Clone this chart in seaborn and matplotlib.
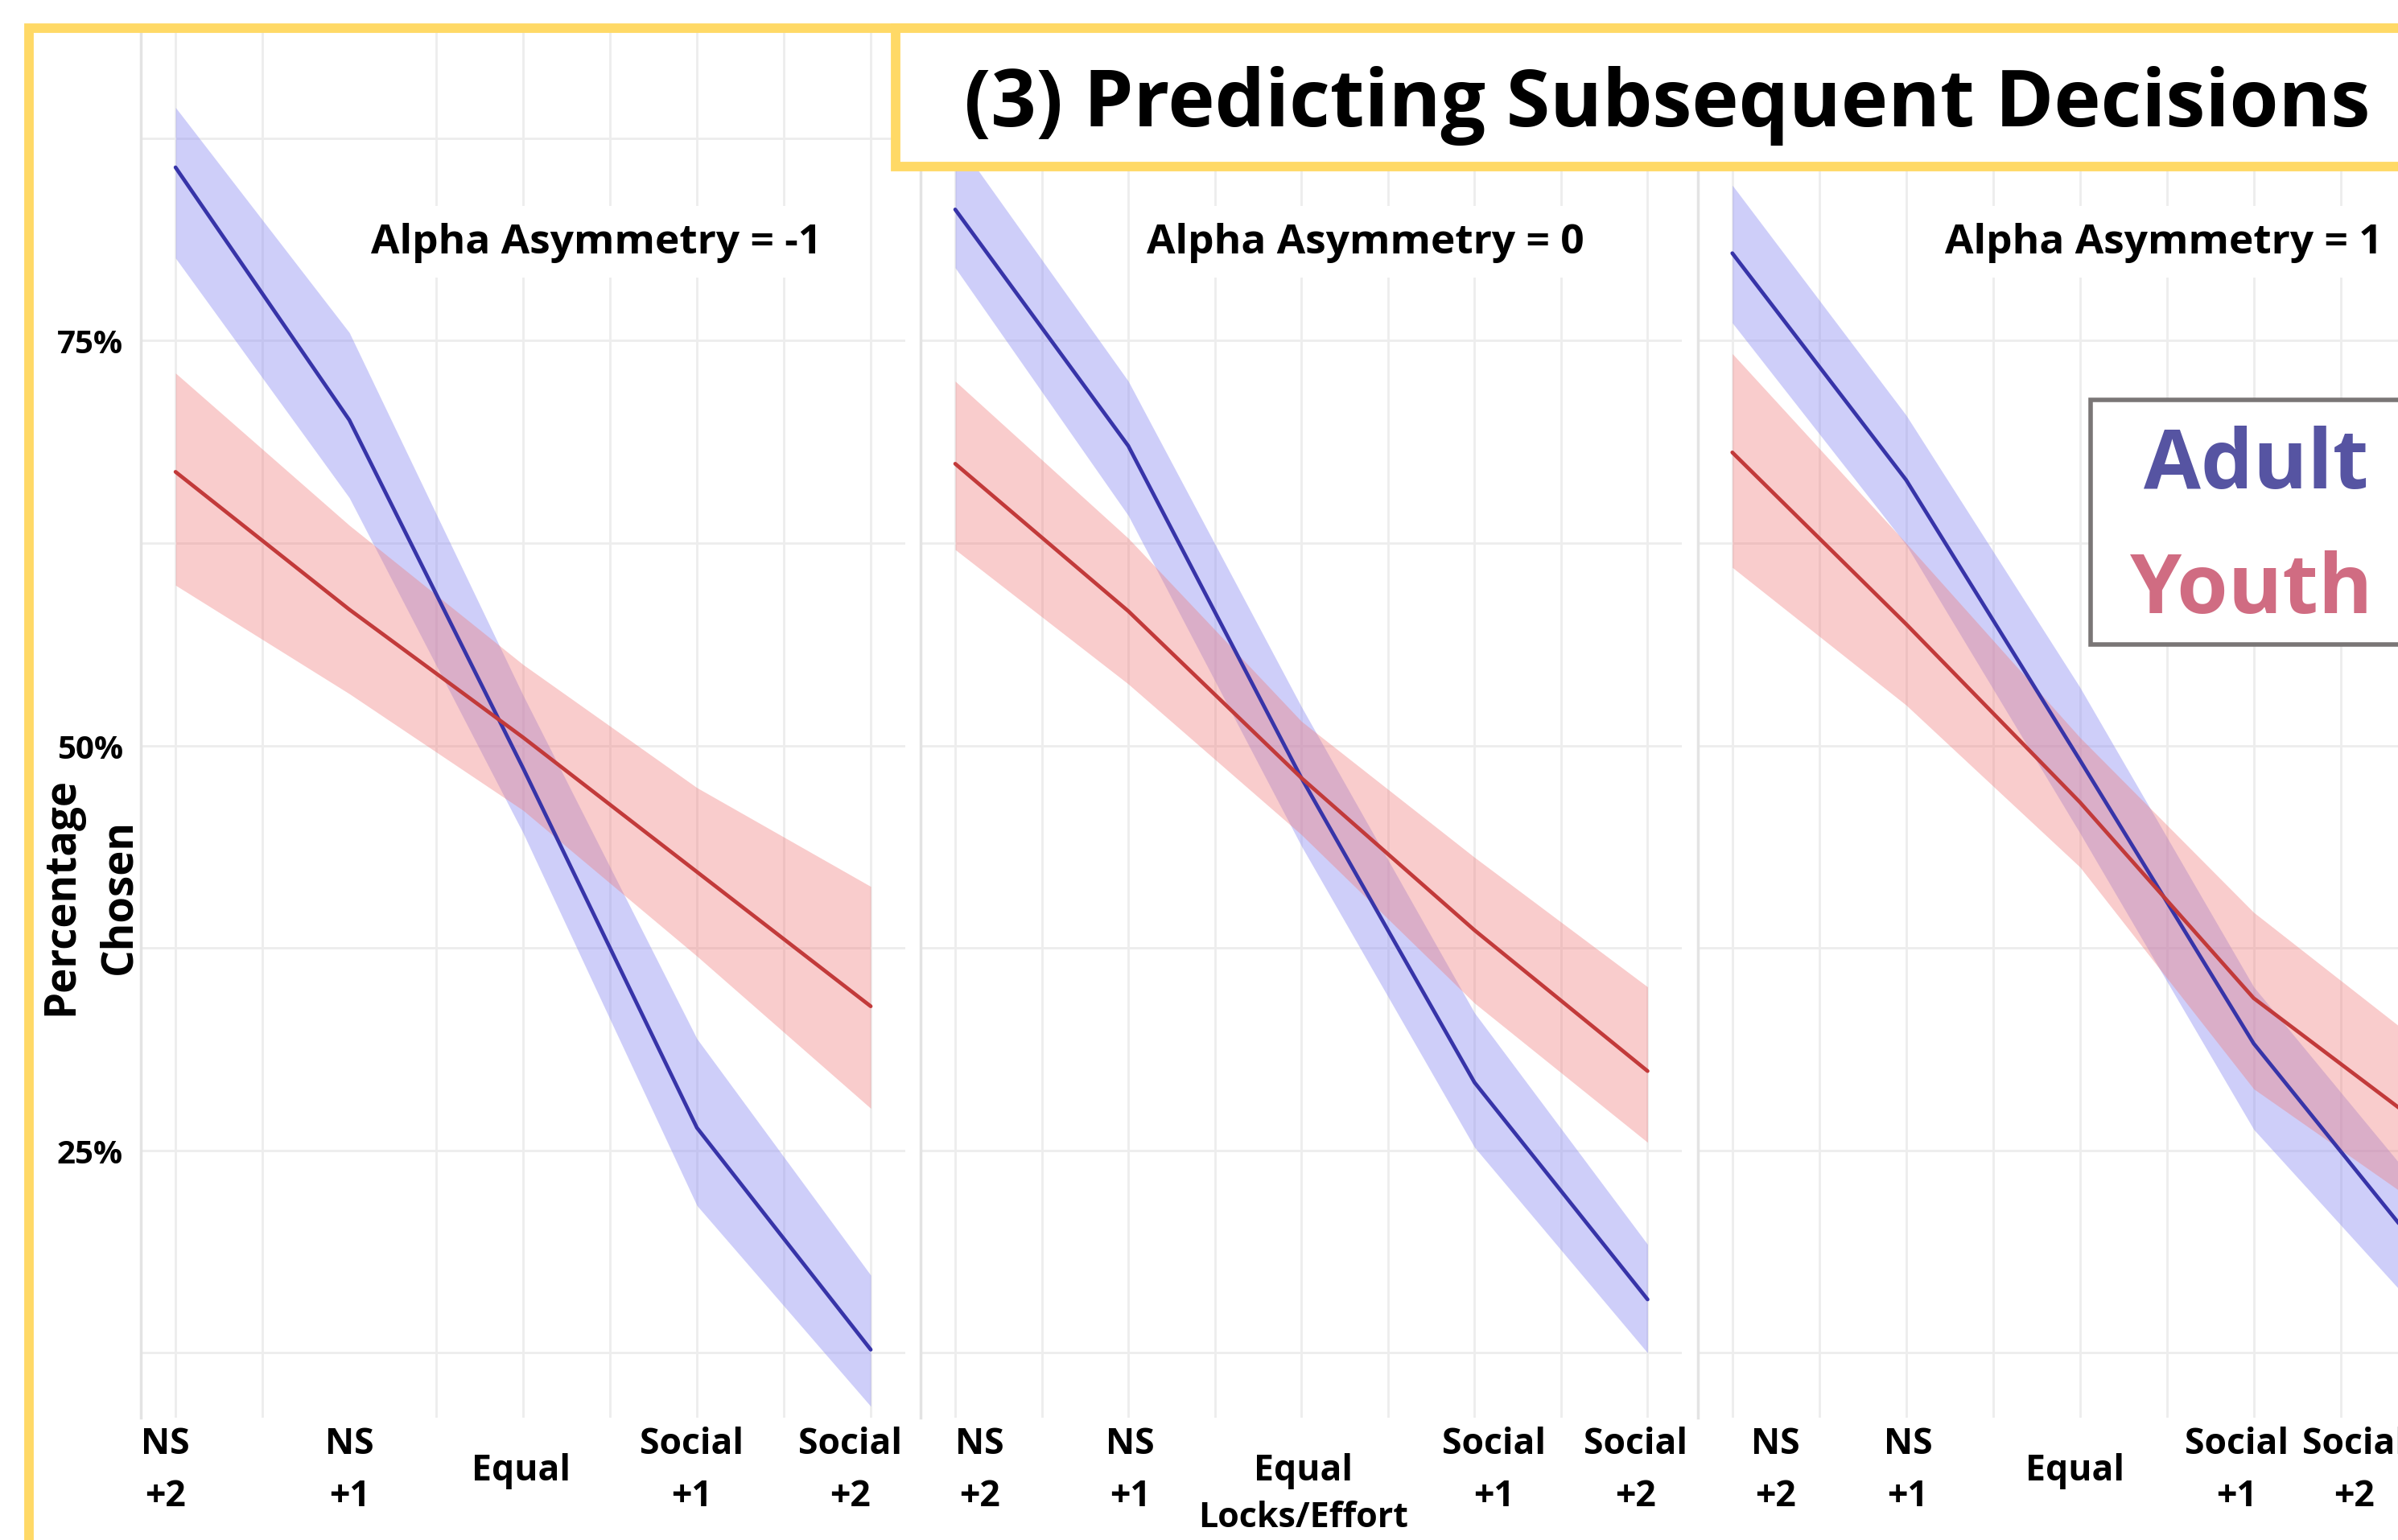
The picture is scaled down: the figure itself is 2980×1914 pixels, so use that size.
import numpy as np
import pandas as pd
import seaborn as sns
import matplotlib
matplotlib.use("Agg")
import matplotlib.pyplot as plt
from matplotlib.patches import Rectangle
from matplotlib.ticker import FixedLocator

# ---------------- data ----------------
categories = ["NS\n+2", "NS\n+1", "Equal", "Social\n+1", "Social\n+2"]
panel_titles = ["Alpha Asymmetry = -1", "Alpha Asymmetry = 0", "Alpha Asymmetry = 1"]
groups = ["Adult", "Youth"]

adult_mean_m1 = [85.7, 70.1, 48.6, 26.4, 12.7]
adult_hi_m1 = [89.4, 75.5, 53.1, 31.9, 17.3]
adult_lo_m1 = [80.1, 65.3, 44.6, 21.6, 9.2]
youth_mean_m1 = [66.9, 58.4, 50.5, 42.2, 33.9]
youth_hi_m1 = [73.0, 63.6, 55.0, 47.4, 41.3]
youth_lo_m1 = [59.9, 53.2, 46.0, 37.0, 27.6]

adult_mean_0 = [83.1, 68.5, 48.0, 29.2, 15.8]
adult_hi_0 = [87.5, 72.5, 52.4, 33.5, 19.2]
adult_lo_0 = [79.5, 64.2, 43.8, 25.2, 12.5]
youth_mean_0 = [67.4, 58.3, 48.0, 38.6, 29.9]
youth_hi_0 = [72.5, 62.8, 51.5, 43.1, 35.1]
youth_lo_0 = [62.1, 53.8, 44.5, 34.1, 25.5]

adult_mean_p1 = [80.4, 66.4, 49.1, 31.6, 18.3]
adult_hi_p1 = [84.6, 70.4, 53.6, 35.1, 22.1]
adult_lo_p1 = [76.1, 62.4, 44.6, 26.3, 14.5]
youth_mean_p1 = [68.1, 57.5, 46.5, 34.4, 26.3]
youth_hi_p1 = [74.2, 62.5, 50.5, 39.7, 31.3]
youth_lo_p1 = [61.0, 52.5, 42.5, 28.8, 21.3]

y_ticks = [25, 50, 75]
y_tick_labels = ["25%", "50%", "75%"]

panel_data = [
    (adult_mean_m1, adult_lo_m1, adult_hi_m1, youth_mean_m1, youth_lo_m1, youth_hi_m1),
    (adult_mean_0, adult_lo_0, adult_hi_0, youth_mean_0, youth_lo_0, youth_hi_0),
    (adult_mean_p1, adult_lo_p1, adult_hi_p1, youth_mean_p1, youth_lo_p1, youth_hi_p1),
]

rows = []
for p, (am, al, ah, ym, yl, yh) in enumerate(panel_data):
    for i in range(len(categories)):
        rows.append(dict(panel=p, pos=i, group="Adult", pct=am[i], lo=al[i], hi=ah[i]))
        rows.append(dict(panel=p, pos=i, group="Youth", pct=ym[i], lo=yl[i], hi=yh[i]))
df = pd.DataFrame(rows)

# ---------------- style ----------------
sns.set_style("white")
plt.rcParams["font.family"] = ["Open Sans", "DejaVu Sans"]
plt.rcParams["font.weight"] = "bold"
for key in ["text.color", "axes.labelcolor", "xtick.color", "ytick.color"]:
    plt.rcParams[key] = "black"

line_colors = {"Adult": "#3734A8", "Youth": "#C23A3A"}
band_colors = {"Adult": "#8C8CF2", "Youth": "#F07A7A"}
band_alpha = {"Adult": 0.42, "Youth": 0.38}
yellow = "#FFD966"
grid_col = "#EDEDED"

fig = plt.figure(figsize=(29.8, 19.15), dpi=100)

# layout (figure fractions)
ax_lefts = [0.0587, 0.3839, 0.7079]
ax_widths = [0.3189, 0.3176, 0.3189]
ax_bottom, ax_height = 0.0794, 0.9008
label_offsets = [
    [-0.06, 1.0, 1.99, 2.97, 3.88],
    [0.14, 1.01, 2.01, 3.11, 3.93],
    [0.25, 1.01, 1.97, 2.90, 3.58],
]
title_x = [0.596, 0.584, 0.61]

axes = []
for p in range(3):
    ax = fig.add_axes([ax_lefts[p], ax_bottom, ax_widths[p], ax_height])
    axes.append(ax)
    sub = df[df.panel == p]
    for g in groups:
        s = sub[sub.group == g]
        ax.fill_between(s.pos, s.lo, s.hi, color=band_colors[g], alpha=band_alpha[g],
                        linewidth=0, zorder=1)
    sns.lineplot(data=sub, x="pos", y="pct", hue="group", palette=line_colors,
                 linewidth=3.4, ax=ax, legend=False, zorder=3, errorbar=None)
    ax.set_xlim(-0.2, 4.2)
    ax.set_ylim(8.5, 94.2)

    # grid via minor ticks
    ax.xaxis.set_minor_locator(FixedLocator(np.arange(0, 4.01, 0.5)))
    ax.yaxis.set_minor_locator(FixedLocator([12.5, 37.5, 62.5, 87.5]))
    ax.set_xticks(label_offsets[p])
    ax.set_xticklabels(categories, fontsize=32, fontweight="bold", linespacing=1.6)
    for t in ax.get_xticklabels():
        t.set_verticalalignment("center")
    ax.tick_params(axis="x", which="major", pad=47, length=0)
    ax.tick_params(axis="both", which="minor", length=0)
    ax.set_yticks(y_ticks)
    if p == 0:
        ax.set_yticklabels(y_tick_labels, fontsize=29, fontweight="bold")
        ax.tick_params(axis="y", pad=16, length=0)
    else:
        ax.set_yticklabels([])
        ax.tick_params(axis="y", length=0)
    ax.grid(False)
    ax.grid(True, which="minor", axis="x", color=grid_col, linewidth=2)
    ax.grid(True, which="both", axis="y", color=grid_col, linewidth=2)
    ax.set_axisbelow(True)
    for side in ["top", "right", "bottom"]:
        ax.spines[side].set_visible(False)
    ax.spines["left"].set_color("#E3E3E3")
    ax.spines["left"].set_linewidth(2.5)
    ax.set_xlabel("")
    ax.set_ylabel("")
    ax.text(title_x[p], 0.847, panel_titles[p], transform=ax.transAxes, ha="center",
            va="center", fontsize=37, fontweight="bold", zorder=5,
            bbox=dict(facecolor="white", edgecolor="none", pad=14))

axes[0].set_ylabel("Percentage\nChosen", fontsize=38, fontweight="bold", linespacing=1.45,
                   multialignment="center", va="center", ha="center")
axes[0].yaxis.set_label_coords(-0.066, 0.376)
axes[1].set_xlabel("Locks/Effort", fontsize=31, fontweight="bold")
axes[1].xaxis.set_label_coords(0.502, -0.0716)
axes[1].xaxis.label.set_verticalalignment("center")

# outer yellow frame
fig.add_artist(Rectangle((0.0121, -0.05), 1.2, 1 - 0.0188 + 0.05, transform=fig.transFigure,
                         fill=False, edgecolor=yellow, linewidth=8.5, zorder=6))
# title box
fig.add_artist(Rectangle((0.3735, 0.8915), 1.0, 1 - 0.0188 - 0.8915, transform=fig.transFigure,
                         facecolor="white", edgecolor=yellow, linewidth=8.5, zorder=7))
fig.text(0.6952, 0.9315, "(3) Predicting Subsequent Decisions", ha="center", va="center",
         fontsize=71, fontweight="bold", zorder=8)

# legend box
fig.add_artist(Rectangle((0.8718, 0.5813), 0.3, 0.1587, transform=fig.transFigure,
                         facecolor="white", edgecolor="#7A7676", linewidth=4, zorder=7))
fig.text(0.9407, 0.6970, "Adult", ha="center", va="center", fontsize=74,
         fontweight="bold", color="#5654A2", zorder=8)
fig.text(0.9390, 0.6160, "Youth", ha="center", va="center", fontsize=74,
         fontweight="bold", color="#D06C82", zorder=8)

fig.savefig("out.png", dpi=100, facecolor="white")
